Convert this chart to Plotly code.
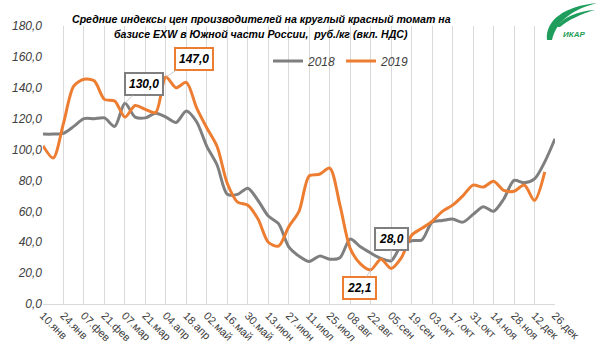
import plotly.graph_objects as go

labels = ["10.янв", "24.янв", "07.фев", "21.фев", "07.мар", "21.мар", "04.апр", "18.апр",
          "02.май", "16.май", "30.май", "13.июн", "27.июн", "11.июл", "25.июл", "08.авг",
          "22.авг", "05.сен", "19.сен", "03.окт", "17.окт", "31.окт", "14.ноя", "28.ноя",
          "12.дек", "26.дек"]

weeks_2018 = list(range(51))
values_2018 = [110, 110, 110.5, 115, 120, 120, 120.5, 115, 130, 121,
               120.5, 123.5, 121, 117.5, 125, 118, 102, 90, 71, 71,
               75, 67, 57, 52, 37, 31, 27.5, 31, 29, 30,
               42, 37, 33, 29.5, 28, 38, 41, 41.5, 53, 54,
               55, 53, 58, 63, 60, 68, 80, 78.5, 81, 92,
               107]

weeks_2019 = list(range(50))
values_2019 = [102.5, 94.5, 117, 141, 145.5, 144.5, 132.5, 131.5, 121, 128.5,
               126, 124, 147, 140, 143.5, 127, 114, 102, 78, 66,
               64, 55, 40, 37.5, 50, 60, 83, 84, 88, 64,
               36, 26, 22.1, 29, 23, 30, 44.5, 49, 53.5, 60,
               64, 70, 77, 75.7, 79.5, 73.5, 73, 77, 67, 85.5]

title_lines = ["Средние индексы цен производителей на круглый красный томат на",
               "базисе EXW в Южной части России,  руб./кг (вкл. НДС)"]

GRAY = "#7f7f7f"
ORANGE = "#ed7d31"
TXT = "#404040"

fig = go.Figure()
fig.add_trace(go.Scatter(x=weeks_2018, y=values_2018, name="2018", mode="lines",
                         line=dict(color=GRAY, width=3, shape="spline", smoothing=0.8)))
fig.add_trace(go.Scatter(x=weeks_2019, y=values_2019, name="2019", mode="lines",
                         line=dict(color=ORANGE, width=3, shape="spline", smoothing=0.8)))

ML, MR, MT, MB = 43, 45, 26, 53
W, H = 600, 357
PW, PH = W - ML - MR, H - MT - MB


def px(x):
    return (x - ML) / PW


def py(y):
    return (H - MB - y) / PH


def label(xv, yv, text, color, ax, ay):
    fig.add_annotation(x=xv, y=yv, text="<b><i>%s</i></b>" % text, showarrow=True,
                       arrowhead=0, arrowwidth=0.8, arrowcolor="#bfbfbf", ax=ax, ay=ay,
                       standoff=0, bordercolor=color, borderwidth=2, borderpad=3,
                       bgcolor="white", font=dict(family="Liberation Sans", size=12, color="black"))


label(8, values_2018[8], "130,0", GRAY, 19, -19)
label(12, values_2019[12], "147,0", ORANGE, 28, -18)
label(34, values_2018[34], "28,0", GRAY, 0, -22)
label(32, values_2019[32], "22,1", ORANGE, -11, 18)

# title
for line, yy in zip(title_lines, [19, 34]):
    fig.add_annotation(xref="paper", yref="paper", x=px(261), y=py(yy), xanchor="center", yanchor="middle",
                       text="<b><i>%s</i></b>" % line, showarrow=False,
                       font=dict(family="Liberation Sans", size=10.6, color="black"))

# logo
G = "#1f9d5c"


def feather(p):
    return "M {},{} C {},{} {},{} {},{} C {},{} {},{} {},{} Z".format(
        *[px(v) if k % 2 == 0 else py(v) for k, v in enumerate(p)])


fig.add_shape(type="path", xref="paper", yref="paper", fillcolor=G, line=dict(width=0),
              path=feather([547, 40, 545, 20, 565, 6, 597, 3, 575, 9, 557, 19, 552, 40]))
fig.add_shape(type="path", xref="paper", yref="paper", fillcolor=G, line=dict(width=0),
              path=feather([557, 27, 563, 17, 578, 11, 595, 10, 581, 14, 568, 20, 560, 27]))
fig.add_annotation(xref="paper", yref="paper", x=px(574), y=py(34), xanchor="center", yanchor="middle",
                   text="<b><i>ИКАР</i></b>", showarrow=False,
                   font=dict(family="Liberation Sans", size=8, color=G))

fig.update_layout(
    width=W, height=H, margin=dict(l=ML, r=MR, t=MT, b=MB),
    paper_bgcolor="white", plot_bgcolor="white",
    separators=", ",
    showlegend=True,
    legend=dict(orientation="h", x=px(268), y=py(61), xanchor="left", yanchor="middle",
                bgcolor="rgba(0,0,0,0)", font=dict(family="Liberation Sans", size=12, color=TXT, style="italic"),
                itemwidth=30, tracegroupgap=0),
    xaxis=dict(range=[0, 50], tickmode="array", tickvals=list(range(0, 51, 2)), ticktext=labels,
               tickangle=45, showgrid=True, gridcolor="#d9d9d9", gridwidth=1, zeroline=False,
               showline=True, linecolor="#d9d9d9", linewidth=1, ticks="",
               tickfont=dict(family="Liberation Sans", size=11, color=TXT)),
    yaxis=dict(range=[0, 180], tickmode="array", tickvals=list(range(0, 181, 20)),
               tickformat=".1f", showgrid=False, zeroline=False, showline=False, ticks="",
               tickfont=dict(family="Liberation Sans", size=12, color=TXT, style="italic")),
)

fig.write_html("out.html", config={"displayModeBar": False},
               post_script="document.body.style.margin='0';")
